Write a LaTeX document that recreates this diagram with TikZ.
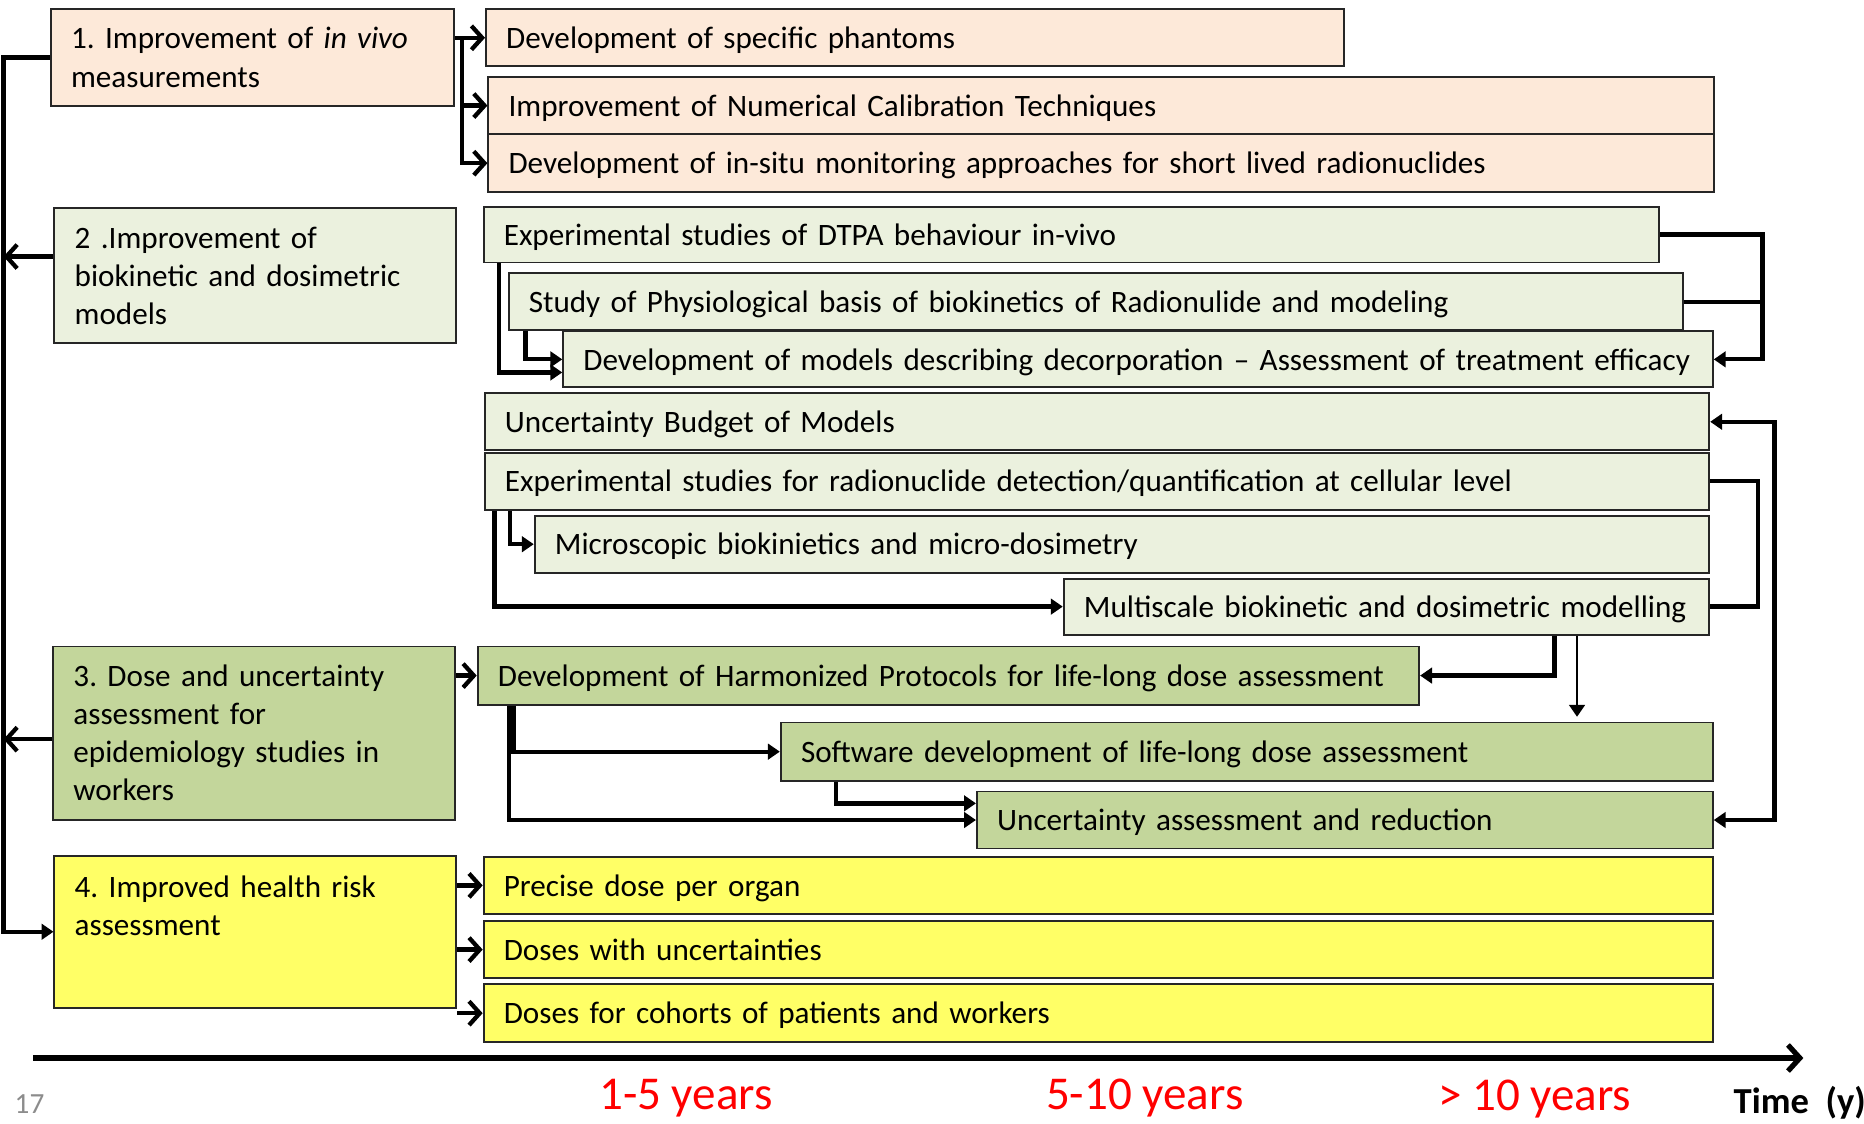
\documentclass[tikz,border=0pt]{standalone}
\usepackage{fontspec}
\setmainfont{Carlito}
\usetikzlibrary{arrows.meta,calc}

\definecolor{peach}{HTML}{FDE9D9}
\definecolor{pale}{HTML}{EBF1DE}
\definecolor{olive}{HTML}{C3D69B}
\definecolor{lemon}{HTML}{FFFF66}
\definecolor{yearred}{HTML}{FF0000}
\definecolor{pagegray}{HTML}{8C8C8C}

% box from its corners (x1,y1) to (x2,y2): name, x1, y1, x2, y2, style, text
\newcommand{\goalbox}[7]{%
  \pgfmathsetmacro\boxw{(#4-#2)/2-17}%
  \pgfmathsetmacro\boxh{(#5-#3)/2}%
  \node[box, #6, text width=\boxw pt, minimum height=\boxh pt, anchor=north west] (#1) at (#2,#3) {#7};%
}
% single-line task box: the text is kept on one line
\newcommand{\taskbox}[7]{\goalbox{#1}{#2}{#3}{#4}{#5}{text height=10pt, text depth=1pt, #6}{\mbox{#7}}}

\tikzset{
  box/.style={draw=black!85, line width=0.8pt, inner xsep=8.5pt, inner ysep=0pt,
    align=left, font=\fontsize{13.1}{16}\selectfont\frenchspacing},
  conn/.style={line width=1.8pt},
  chev/.style={conn, -{Straight Barb[length=4.5pt,width=10pt]}},
  tri/.style={conn, -{Triangle[length=5pt,width=6.5pt]}},
  year/.style={text=yearred, font=\fontsize{19.8}{22}\selectfont, anchor=base, inner sep=0pt},
}

\begin{document}
\begin{tikzpicture}[x=0.5pt, y=-0.5pt]
\useasboundingbox (0,0) rectangle (1568,945);

% objective boxes
\goalbox{b1}{42}{7}{381}{88}{fill=peach}{1. Improvement of \textit{in vivo}\\measurements}
\goalbox{b2}{45}{174}{383}{288}{fill=pale}{2 .Improvement of\\biokinetic and dosimetric\\models}
\goalbox{b3}{44}{543}{382}{689}{fill=olive}{3. Dose and uncertainty\\assessment for\\epidemiology studies in\\workers}
\goalbox{b4}{45}{719}{383}{847}{fill=lemon, text height=17.5pt, text depth=46.5pt}{4. Improved health risk\\assessment}

% in vivo measurement tasks
\taskbox{p1}{408}{7}{1130}{55}{fill=peach}{Development of specific phantoms}
\taskbox{p2}{410}{64}{1441}{112}{fill=peach}{Improvement of Numerical Calibration Techniques}
\taskbox{p3}{410}{112}{1441}{161}{fill=peach}{Development of in-situ monitoring approaches for short lived radionuclides}

% model tasks
\taskbox{g1}{406}{173}{1395}{220}{fill=pale}{Experimental studies of DTPA behaviour in-vivo}
\taskbox{g2}{427}{229}{1415}{277}{fill=pale}{Study of Physiological basis of biokinetics of Radionulide and modeling}
\taskbox{g3}{473}{278}{1440}{325}{fill=pale}{Development of models describing decorporation -- Assessment of treatment efficacy}
\taskbox{g4}{407}{330}{1437}{378}{fill=pale}{Uncertainty Budget of Models}
\taskbox{g5}{407}{380}{1437}{428}{fill=pale}{Experimental studies for radionuclide detection/quantification at cellular level}
\taskbox{g6}{449}{433}{1437}{481}{fill=pale}{Microscopic biokinietics and micro-dosimetry}
\taskbox{g7}{894}{486}{1437}{533}{fill=pale}{Multiscale biokinetic and dosimetric modelling}

% dose tasks
\taskbox{d1}{401}{543}{1193}{592}{fill=olive}{Development of Harmonized Protocols for life-long dose assessment}
\taskbox{d2}{656}{607}{1440}{656}{fill=olive}{Software development of life-long dose assessment}
\taskbox{d3}{821}{665}{1440}{713}{fill=olive}{Uncertainty assessment and reduction}

% risk outputs
\taskbox{y1}{406}{720}{1440}{768}{fill=lemon}{Precise dose per organ}
\taskbox{y2}{406}{774}{1440}{822}{fill=lemon}{Doses with uncertainties}
\taskbox{y3}{406}{827}{1440}{876}{fill=lemon}{Doses for cohorts of patients and workers}

% left spine joining the objectives
\coordinate (spine) at (3,0);
\draw[conn, -{Triangle[length=5pt,width=6.5pt]}] (b1.west) -- (b1.west -| spine) |- (b4.west);
\draw[chev] ($(b2.west)+(0,-16)$) -- ++(-42,0);
\draw[chev] ($(b3.west)+(0,5)$) -- ++(-41,0);

% objective 1 branches
\coordinate (k1) at ($(b1.east |- p1.west)+(6,0)$);
\draw[chev] (b1.east |- p1.west) -- (p1.west);
\draw[chev] (k1) |- (p2.west);
\draw[chev] (k1) |- (p3.west);

% objective 3 and 4 branches
\draw[chev] (b3.east |- d1.west) -- (d1.west);
\foreach \t in {y1,y2,y3}
  \draw[chev] (b4.east |- \t.west) -- (\t.west);

% model task links
\draw[tri] ($(g1.south west)+(14,0)$) |- ($(g3.west)+(0,11)$);
\draw[tri] ($(g2.south west)+(15,0)$) |- (g3.west);
\draw[tri] (g1.east) -- ++(86,0) |- (g3.east);
\draw[conn] (g2.east) -- ++(66,0);

\draw[tri] ($(g5.south west)+(22,0)$) |- (g6.west);
\draw[tri] ($(g5.south west)+(9,0)$) |- (g7.west);
\draw[conn] (g5.east) -- ++(40,0) |- (g7.east);
\draw[conn, {Triangle[length=5pt,width=6.5pt]}-{Triangle[length=5pt,width=6.5pt]}] (g4.east) -- ++(54,0) |- (d3.east);

% dose task links
\coordinate (g7b) at ($(g7.south east)+(-112,0)$);
\draw[tri] ($(g7.south east)+(-131,0)$) |- (d1.east);
\draw[tri, line width=1.2pt] (g7b) -- ($(g7b |- d2.north)+(0,-4)$);
\draw[tri] ($(d1.south west)+(31,0)$) |- (d2.west);
\draw[tri] ($(d1.south west)+(27,0)$) |- (d3.west);
\draw[tri] ($(d2.south west)+(47,0)$) |- ($(d3.west)+(0,-14)$);

% time axis
\coordinate (t0) at (28,890);
\coordinate (t1) at (1517,890);
\draw[line width=2.2pt, -{Straight Barb[length=5pt,width=11pt]}] (t0) -- (t1);

\node[year] (yr1) at (577,933) {1-5 years};
\node[year] (yr2) at (963,933) {5-10 years};
\node[year] (yr3) at (1291,934) {> 10 years};
\node[anchor=base west, inner sep=0pt, font=\fontsize{15.4}{18}\selectfont\bfseries] (tm) at (1458,937) {Time\ \ (y)};
\node[anchor=base west, inner sep=0pt, text=pagegray, font=\fontsize{12.3}{14}\selectfont] (pg) at (12,937) {17};
\end{tikzpicture}
\end{document}
